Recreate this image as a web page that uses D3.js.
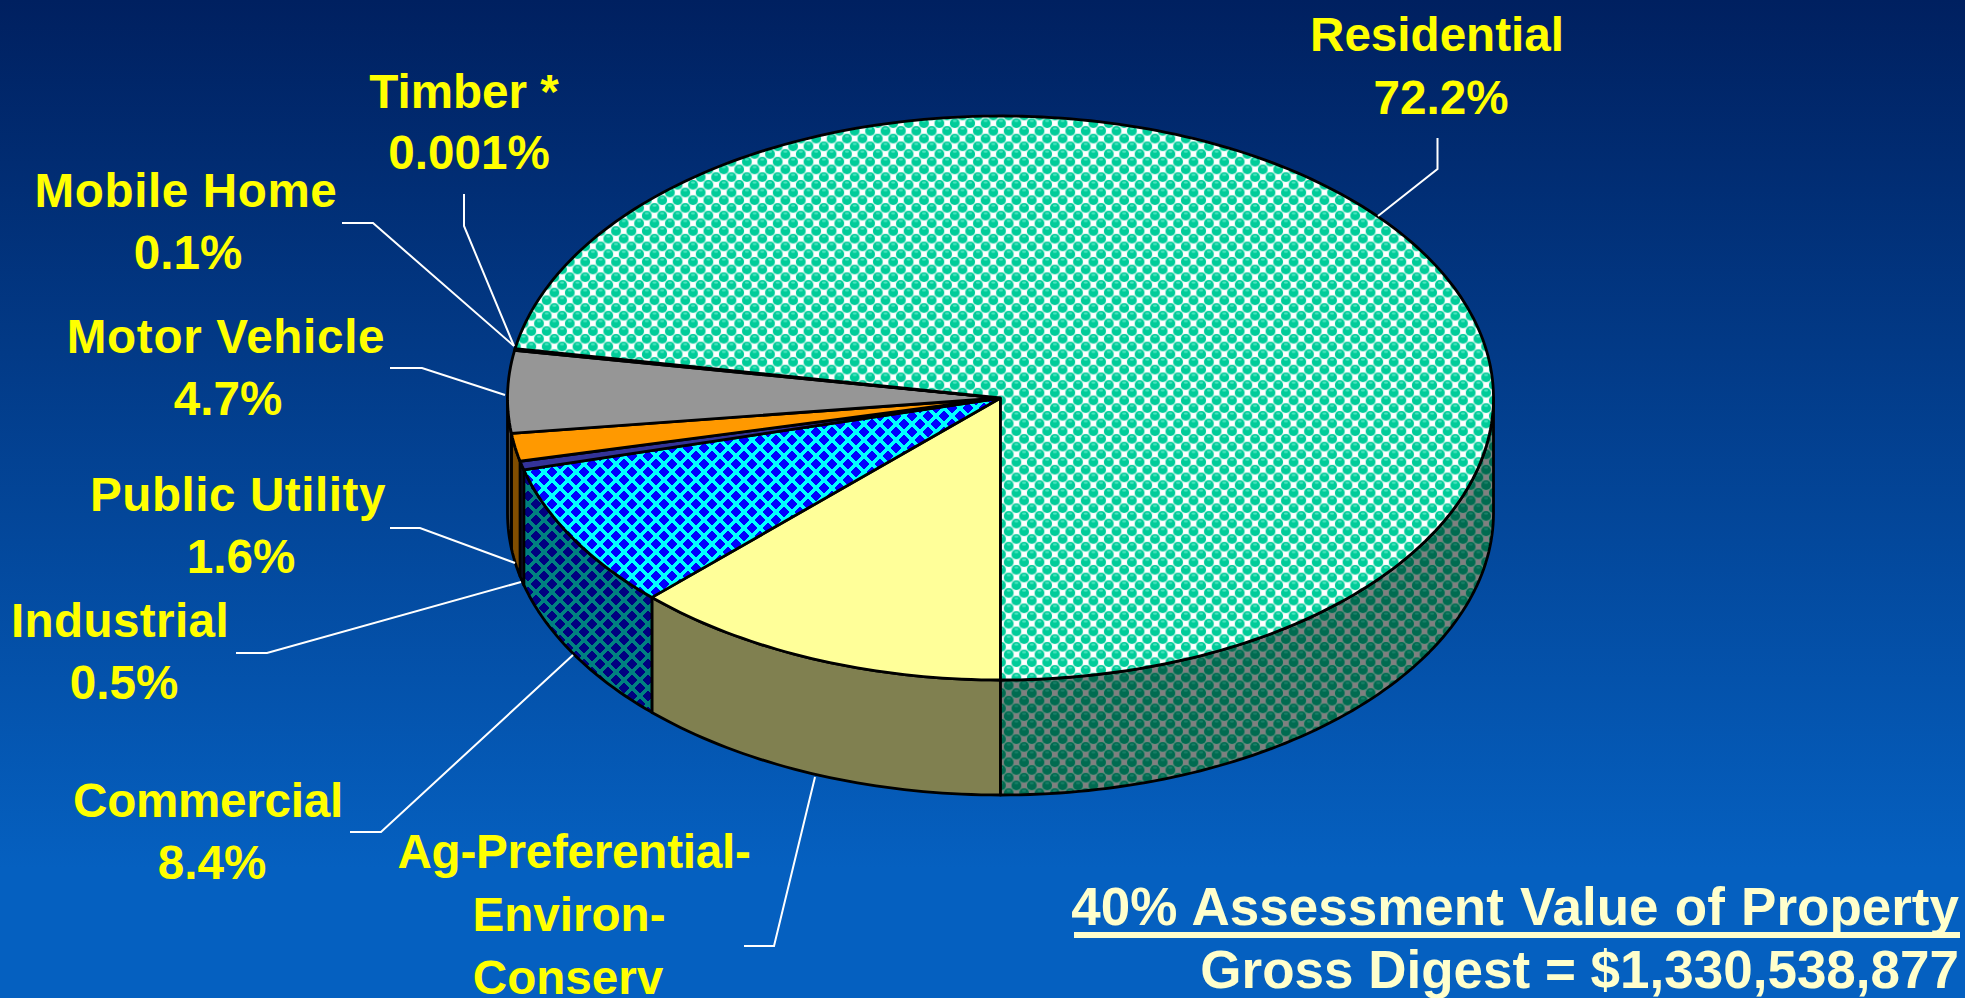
<!DOCTYPE html>
<html><head><meta charset="utf-8">
<style>html,body{margin:0;padding:0;overflow:hidden;background:#0560c0}text{font-family:"Liberation Sans",Arial,sans-serif;font-weight:bold}</style>
<script src="https://cdn.jsdelivr.net/npm/d3@7"></script></head><body><svg id="c" width="1965" height="998" style="display:block"></svg>
<script>
// clockwise from 6 o'clock
const categories=["Ag-Preferential-Environ-Conserv","Commercial","Industrial","Public Utility","Motor Vehicle","Mobile Home","Timber *","Residential"];
const shares=[12.5,8.4,0.5,1.6,4.7,0.1,0.001,72.2];
const shareLabels=["","8.4%","0.5%","1.6%","4.7%","0.1%","0.001%","72.2%"];
const topFills=["#ffff99","url(#diaTop)","#333399","#ff9900","#969696","#808080","#808080","url(#ballTop)"];
const sideFills=["#808050","url(#diaSide)","#1a1a4d","#804d00","#4b4b4b","#404040","#404040","url(#ballSide)"];
const labelLines=[["Residential",1437,51],["72.2%",1441,114],["Timber *",464,108],["0.001%",469,169],["Mobile Home",186,207],["0.1%",188,269],["Motor Vehicle",226,353],["4.7%",228,415],["Public Utility",238,511],["1.6%",241,573],["Industrial",120,637],["0.5%",124,699],["Commercial",208,817],["8.4%",212,879],["Ag-Preferential-",574,868],["Environ-",569,931],["Conserv",568,994]];
const labelTracking={"Mobile Home":0.6,"Motor Vehicle":0.7,"Public Utility":0.55,"Industrial":0.4,"Commercial":-0.25,"Ag-Preferential-":-0.25};
const leaders=[[[1437.5,138],[1437.5,169],[1378,216]],[[464,194],[464,226],[514,346]],[[342,223],[373,223],[514,346]],[[390,368],[422,368],[505,395]],[[390,528],[420,528],[515,563]],[[236,653],[267,653],[521,582]],[[350,832],[381,832],[573,655]],[[744,946],[774,946],[815,777]]];
const footnote=["40% Assessment Value of Property","Gross Digest = $1,330,538,877"];

const cx=1000.5,cy=398,rx=493,ry=282,depth=115;
const svg=d3.select("#c"),defs=svg.append("defs");
const bg=defs.append("linearGradient").attr("id","bg").attr("x1",0).attr("x2",0).attr("y1",0).attr("y2",1);
bg.append("stop").attr("offset",0).attr("stop-color","#002060");
bg.append("stop").attr("offset",0.87).attr("stop-color","#0560c0");
bg.append("stop").attr("offset",1).attr("stop-color","#0560c0");
function diamonds(id,base,ink){
  const s=16,h=s/2,r=5.4;
  const p=defs.append("pattern").attr("id",id).attr("patternUnits","userSpaceOnUse").attr("width",s).attr("height",s);
  p.append("rect").attr("width",s).attr("height",s).attr("fill",base);
  [[h,h],[0,0],[s,0],[0,s],[s,s]].forEach(([x,y])=>p.append("path").attr("d",`M${x-r},${y}L${x},${y-r}L${x+r},${y}L${x},${y+r}Z`).attr("fill",ink).attr("shape-rendering","crispEdges"));
}
diamonds("diaTop","#00ffff","#0000ff");
diamonds("diaSide","#008080","#000080");
function balls(id,base,check,ink,hi){
  const s=15.4,h=s/2,r=4.9;
  const p=defs.append("pattern").attr("id",id).attr("patternUnits","userSpaceOnUse").attr("width",s).attr("height",s);
  p.append("rect").attr("width",s).attr("height",s).attr("fill",base);
  [[h,0],[0,h],[s,h],[h,s]].forEach(([x,y])=>p.append("rect").attr("x",x-2.7).attr("y",y-2.7).attr("width",5.4).attr("height",5.4).attr("fill",check));
  [[h,h],[0,0],[s,0],[0,s],[s,s]].forEach(([x,y])=>{
    p.append("circle").attr("cx",x).attr("cy",y).attr("r",r).attr("fill",ink);
    p.append("ellipse").attr("cx",x).attr("cy",y-2.2).attr("rx",2).attr("ry",1.1).attr("fill",hi);
  });
}
balls("ballTop","#cdf4e9","#ffffff","#00cc99","#4de6c0");
balls("ballSide","#5c8c7c","#808080","#006b50","#1a8068");

svg.append("rect").attr("width",1965).attr("height",998).attr("fill","url(#bg)");

const arcs=d3.pie().sort(null).startAngle(Math.PI).endAngle(3*Math.PI)(shares);
const sx=d3.scaleLinear().domain([-1,1]).range([cx-rx,cx+rx]);
const sy=d3.scaleLinear().domain([-1,1]).range([cy+ry,cy-ry]);
const px=t=>sx(Math.sin(t)),py=t=>sy(Math.cos(t));
function rim(a,b){const n=Math.max(2,Math.ceil(Math.abs(b-a)/0.02));return d3.range(n+1).map(i=>{const t=a+(b-a)*i/n;return [px(t),py(t)];});}
const line=d3.line();
const g=svg.append("g");
const sw=2.8;
const walls=arcs.map((d,i)=>({a:Math.max(d.startAngle,Math.PI/2),b:Math.min(d.endAngle,3*Math.PI/2),i})).filter(w=>w.b>w.a);
walls.push({a:Math.PI/2,b:Math.PI,i:arcs.length-1}); // residential wraps past 2PI on the right
walls.forEach(w=>{
  const up=rim(w.a,w.b),down=up.slice().reverse().map(([x,y])=>[x,y+depth]);
  g.append("path").attr("d",line(up.concat(down))+"Z").attr("fill",sideFills[w.i]).attr("stroke","#000").attr("stroke-width",sw).attr("stroke-linejoin","round");
});
arcs.forEach((d,i)=>{
  const pts=[[cx,cy]].concat(rim(d.startAngle,d.endAngle));
  g.append("path").attr("d",line(pts)+"Z").attr("fill",topFills[i]).attr("stroke","#000").attr("stroke-width",sw).attr("stroke-linejoin","round");
});
svg.append("g").selectAll("path").data(leaders).join("path").attr("d",d=>line(d)).attr("fill","none").attr("stroke","#fff").attr("stroke-width",2);
svg.append("g").selectAll("text").data(labelLines).join("text").attr("x",d=>d[1]).attr("y",d=>d[2]).attr("text-anchor","middle").attr("font-size",47.6).attr("letter-spacing",d=>labelTracking[d[0]]||0).attr("fill","#ffff00").text(d=>d[0]);
const fg=svg.append("g").attr("fill","#ffffcc").attr("font-size",53);
fg.append("text").attr("x",1959).attr("y",925).attr("text-anchor","end").attr("word-spacing",1.5).text(footnote[0]);
fg.append("text").attr("x",1959).attr("y",988).attr("text-anchor","end").text(footnote[1]);
fg.append("rect").attr("x",1074).attr("y",932).attr("width",886).attr("height",6);
</script></body></html>
